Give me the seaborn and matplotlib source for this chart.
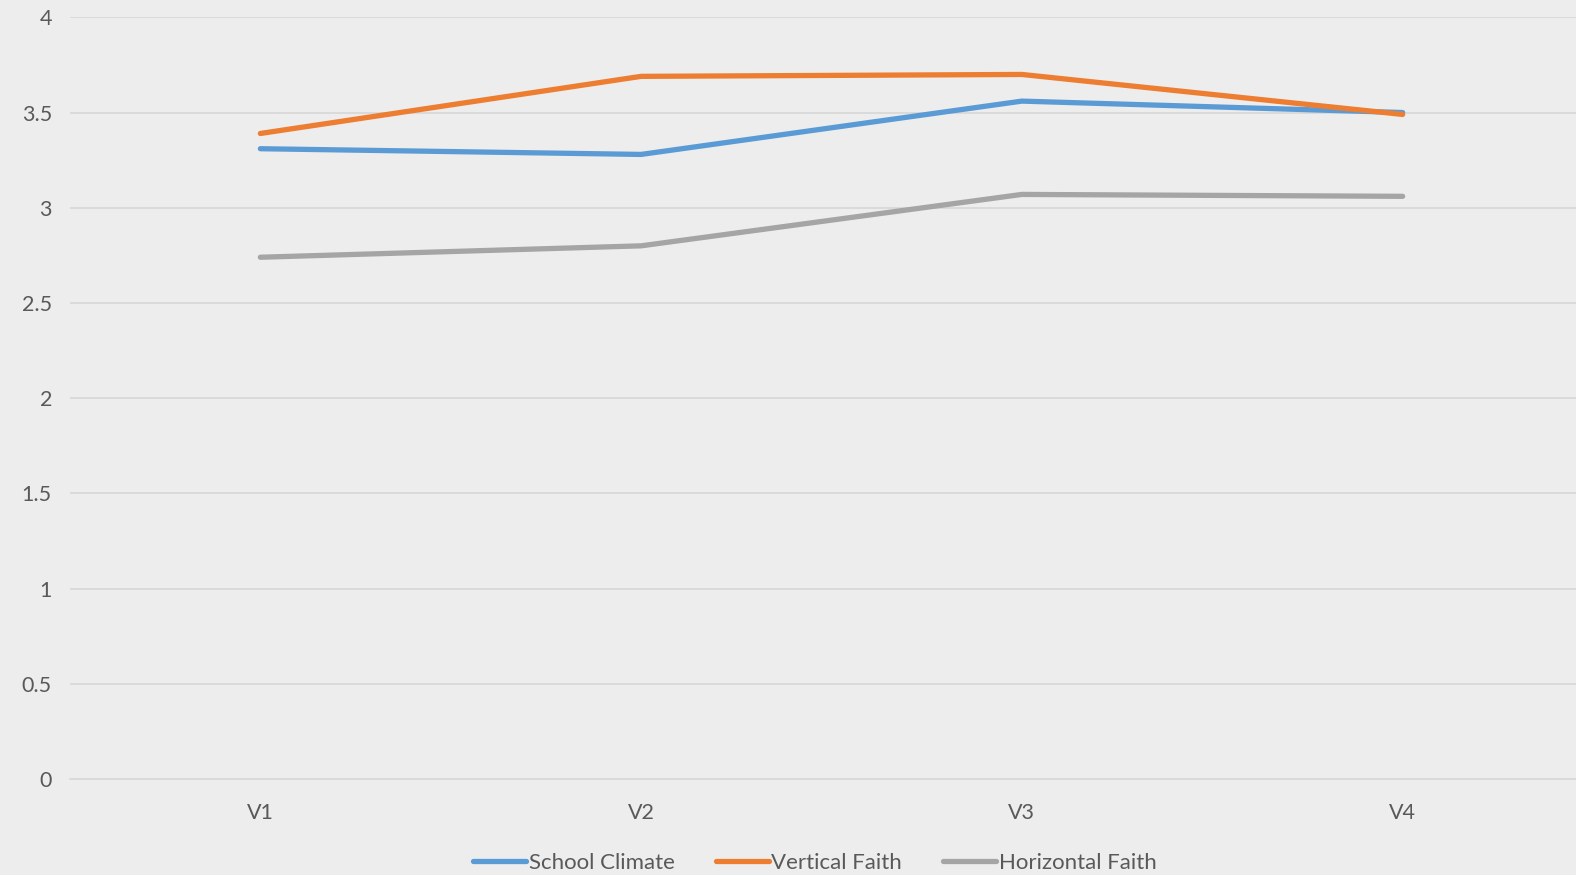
import pandas as pd
import matplotlib
matplotlib.use("Agg")
import matplotlib.pyplot as plt
import seaborn as sns

# values
waves = ["V1", "V2", "V3", "V4"]
school_climate = [3.31, 3.28, 3.56, 3.50]
vertical_faith = [3.39, 3.69, 3.70, 3.49]
horizontal_faith = [2.74, 2.80, 3.07, 3.06]
series_names = ["School Climate", "Vertical Faith", "Horizontal Faith"]
colors = ["#5B9BD5", "#ED7D31", "#A5A5A5"]
y_ticks = [0, 0.5, 1, 1.5, 2, 2.5, 3, 3.5, 4]
y_labels = ["0", "0.5", "1", "1.5", "2", "2.5", "3", "3.5", "4"]

df = pd.DataFrame({
    "wave": waves * 3,
    "score": school_climate + vertical_faith + horizontal_faith,
    "series": [s for s in series_names for _ in waves],
})

sns.set_theme(style="white")
plt.rcParams["font.family"] = ["Lato", "DejaVu Sans"]
bg = "#EDEDED"
txt = "#595959"

fig = plt.figure(figsize=(15.76, 8.75), dpi=100, facecolor=bg)
ax = fig.add_axes([0.0444, 0.1097, 0.9664, 0.8705])
ax.set_facecolor(bg)

sns.lineplot(data=df, x="wave", y="score", hue="series", hue_order=series_names,
             palette=colors, linewidth=3.8, ax=ax, sort=False,
             solid_capstyle="round", legend=True)

ax.set_xlim(-0.5, 3.5)
ax.set_ylim(0, 4)
ax.set_yticks(y_ticks)
ax.set_yticklabels(y_labels)
ax.yaxis.grid(True, color="#D9D9D9", linewidth=1.3)
ax.set_axisbelow(True)
for side in ["top", "right", "left"]:
    ax.spines[side].set_visible(False)
ax.spines["bottom"].set_color("#D9D9D9")
ax.spines["bottom"].set_linewidth(1.3)
ax.tick_params(axis="both", length=0, labelsize=15.5, labelcolor=txt)
ax.tick_params(axis="y", pad=13)
ax.tick_params(axis="x", pad=17)
ax.set_xlabel("")
ax.set_ylabel("")

handles, labels = ax.get_legend_handles_labels()
for h in handles:
    h.set_linewidth(3.8)
    h.set_solid_capstyle("round")
leg = fig.legend(handles, labels, loc="center", bbox_to_anchor=(0.517, 0.0135),
                 ncol=3, frameon=False, fontsize=16, labelcolor=txt,
                 handlelength=2.4, handletextpad=0.1, columnspacing=1.85)
ax.get_legend().remove()

fig.savefig("out.png", dpi=100, facecolor=bg)
